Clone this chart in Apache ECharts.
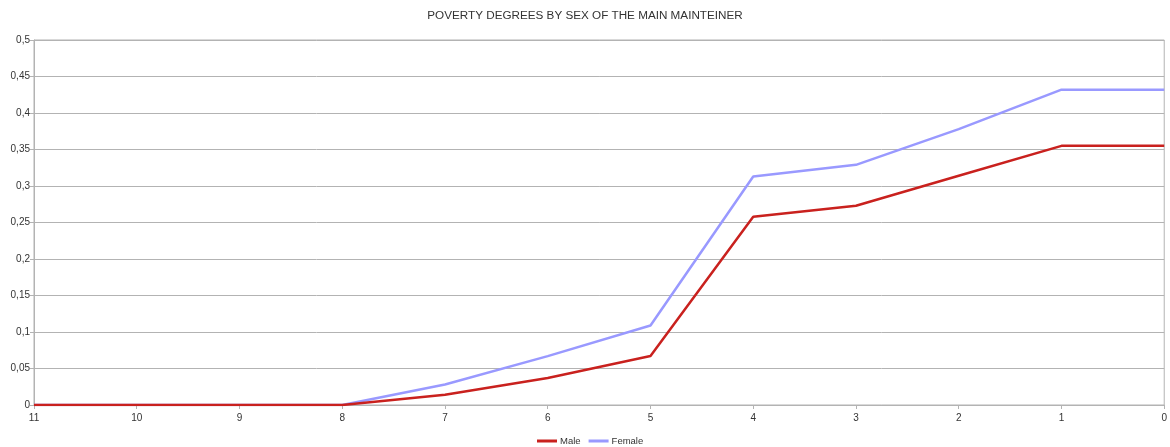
<!DOCTYPE html>
<html>
<head>
<meta charset="utf-8">
<script src="https://cdn.jsdelivr.net/npm/echarts@6/dist/echarts.min.js"></script>
<style>
  html, body { margin: 0; padding: 0; background: #ffffff; }
  #chart { width: 1170px; height: 447px; }
</style>
</head>
<body>
<div id="chart"></div>
<script>
// Poverty degree (11 = least poor ... 0), share of households by sex of main maintainer
const degrees = ['11', '10', '9', '8', '7', '6', '5', '4', '3', '2', '1', '0'];
const maleValues = [0, 0, 0, 0, 0.014, 0.037, 0.067, 0.258, 0.273, 0.314, 0.355, 0.355];
const femaleValues = [0, 0, 0, 0, 0.028, 0.067, 0.109, 0.313, 0.329, 0.378, 0.432, 0.432];
const yTicks = { min: 0, max: 0.5, interval: 0.05 };

const chart = echarts.init(document.getElementById('chart'), null, { renderer: 'canvas' });
const font = 'Liberation Sans, Arial, sans-serif';

chart.setOption({
  animation: false,
  backgroundColor: '#ffffff',
  title: {
    text: 'POVERTY DEGREES BY SEX OF THE MAIN MAINTEINER',
    left: 'center',
    top: 5,
    textStyle: { fontFamily: font, fontSize: 11.7, fontWeight: 'normal', color: '#333333' }
  },
  legend: {
    top: 431,
    left: 532,
    itemWidth: 20,
    itemHeight: 3,
    itemGap: 8,
    icon: 'rect',
    textStyle: { fontFamily: font, fontSize: 9.5, color: '#333333', padding: [0, 0, 0, -2] },
    data: ['Male', 'Female']
  },
  grid: {
    left: 34, right: 3, top: 40, bottom: 42,
    show: true, borderColor: '#b3b3b3', borderWidth: 1
  },
  xAxis: {
    type: 'category',
    data: degrees,
    boundaryGap: false,
    axisLine: { lineStyle: { color: '#b3b3b3' } },
    axisTick: { show: true, alignWithLabel: true, length: 4, lineStyle: { color: '#b3b3b3' } },
    axisLabel: { fontFamily: font, fontSize: 10, color: '#333333', margin: 8 },
    splitLine: { show: false }
  },
  yAxis: {
    type: 'value',
    min: yTicks.min,
    max: yTicks.max,
    interval: yTicks.interval,
    axisLine: { show: true, lineStyle: { color: '#b3b3b3' } },
    axisTick: { show: true, length: 4, lineStyle: { color: '#b3b3b3' } },
    axisLabel: {
      fontFamily: font, fontSize: 10, color: '#333333', margin: 4,
      formatter: v => String(Math.round(v * 100) / 100).replace('.', ',')
    },
    splitLine: { lineStyle: { color: '#b3b3b3', width: 1 } }
  },
  series: [
    {
      name: 'Male', type: 'line', data: maleValues,
      showSymbol: false, symbol: 'none',
      lineStyle: { color: '#c9211e', width: 2.5 },
      itemStyle: { color: '#c9211e' },
      z: 3
    },
    {
      name: 'Female', type: 'line', data: femaleValues,
      showSymbol: false, symbol: 'none',
      lineStyle: { color: '#9999ff', width: 2.5 },
      itemStyle: { color: '#9999ff' },
      z: 2
    }
  ]
});
</script>
</body>
</html>
